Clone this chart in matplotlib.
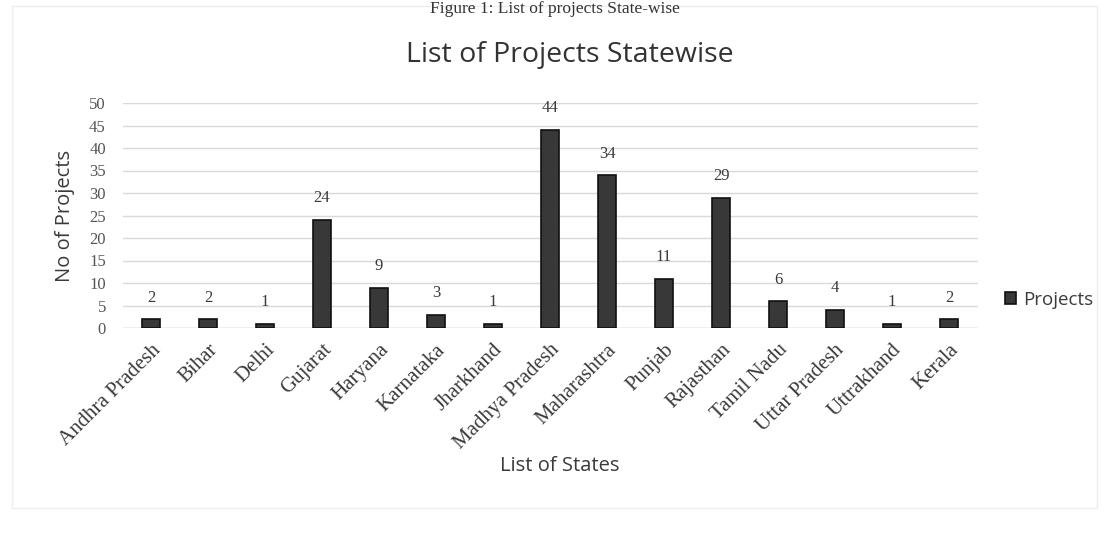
import matplotlib.pyplot as plt
import numpy as np
from matplotlib.patches import Rectangle

# Data
states = ['Andhra Pradesh', 'Bihar', 'Delhi', 'Gujarat', 'Haryana', 'Karnataka',
          'Jharkhand', 'Madhya Pradesh', 'Maharashtra', 'Punjab', 'Rajasthan',
          'Tamil Nadu', 'Uttar Pradesh', 'Uttrakhand', 'Kerala']
projects = [2, 2, 1, 24, 9, 3, 1, 44, 34, 11, 29, 6, 4, 1, 2]
y_ticks = [0, 5, 10, 15, 20, 25, 30, 35, 40, 45, 50]

serif = 'Liberation Serif'
sans = 'Open Sans'
txt = '#3a3a3a'

fig = plt.figure(figsize=(11.12, 5.35), dpi=100)
fig.patch.set_facecolor('white')

# faint outer frame of the chart object
fig.patches.append(Rectangle((12 / 1112, 1 - 508 / 535), 1085 / 1112, 502 / 535,
                             transform=fig.transFigure, fill=False,
                             edgecolor='#eeeeee', linewidth=1))

ax = fig.add_axes([122.5 / 1112, 1 - 328 / 535, 855 / 1112, 225 / 535])

x = np.arange(len(states))
bars = ax.bar(x, projects, width=0.3, color='#383838', edgecolor='#111111',
              linewidth=1.2, label='Projects', zorder=3)

for xi, v in zip(x, projects):
    ax.text(xi, v + 3.0, str(v), ha='center', va='bottom', fontsize=12,
            family=serif, color=txt)

ax.set_xlim(-0.5, len(states) - 0.5)
ax.set_ylim(0, 50)
ax.set_yticks(y_ticks)
ax.set_yticklabels([str(t) for t in y_ticks], family=serif, fontsize=12, color='#555555')
ax.set_xticks(x)
ax.set_xticklabels(states, rotation=45, ha='right', rotation_mode='anchor',
                   family=serif, fontsize=15, color=txt)
ax.tick_params(axis='x', length=0, pad=9)
ax.tick_params(axis='y', length=0, pad=12)
ax.grid(axis='y', color='#d9d9d9', linewidth=1, zorder=0)
for s in ax.spines.values():
    s.set_visible(False)
ax.axhline(0, color='#d0d0d0', linewidth=1, zorder=1)

ax.set_ylabel('No of Projects', family=sans, fontsize=14.5, color=txt, labelpad=10)
fig.text(560 / 1112, 1 - 466 / 535, 'List of States', family=sans, fontsize=14.5,
         color=txt, ha='center', va='center')

fig.text(570 / 1112, 1 - 55 / 535, 'List of Projects Statewise', family=sans,
         fontsize=20.5, color='#333333', ha='center', va='center')
# caption of the figure, at the very top edge of the scan
fig.text(555 / 1112, 1 - 9 / 535, 'Figure 1: List of projects State-wise', family=serif,
         fontsize=12.5, color='#333333', ha='center', va='center')

ax.legend(loc='center left', bbox_to_anchor=(988 / 1112, 1 - 300 / 535),
          bbox_transform=fig.transFigure, frameon=False, handlelength=0.6,
          handleheight=0.6, handletextpad=0.35,
          prop={'family': sans, 'size': 13.5}, labelcolor=txt)

fig.savefig('out.png', dpi=100)
